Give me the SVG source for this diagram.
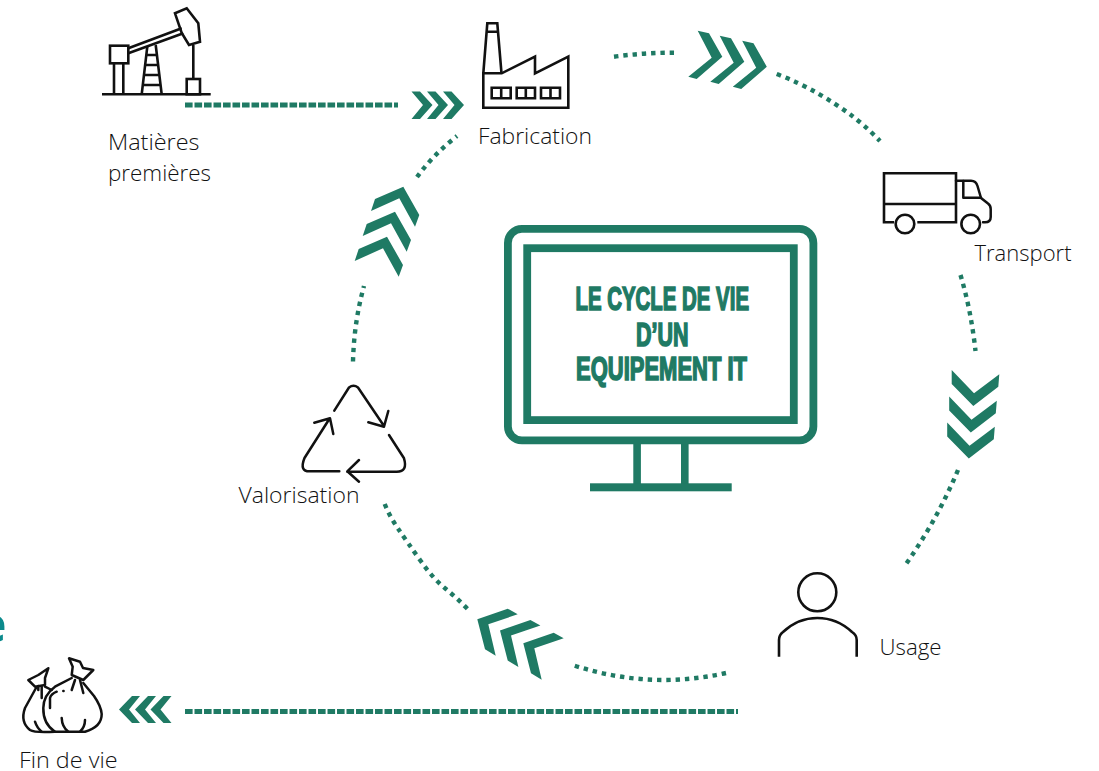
<svg xmlns="http://www.w3.org/2000/svg" width="1099" height="771" viewBox="0 0 1099 771">
<style>
.ic{fill:none;stroke:#111;stroke-width:2.5;stroke-linejoin:round;stroke-linecap:round}
.ib{fill:none;stroke:#111;stroke-width:2.6;stroke-linejoin:miter;stroke-linecap:butt}
.lb{font-family:"Open Sans","Noto Sans","Liberation Sans",sans-serif;font-weight:300;font-size:22px;fill:#111}
.tt{font-family:"Liberation Sans",Arial,sans-serif;font-weight:700;font-size:33px;fill:#1f7a64;stroke:#1f7a64;stroke-width:1.7}
.dot{fill:none;stroke:#1f7a64;stroke-width:4.4;stroke-dasharray:4.4 4.9}
.dash{fill:none;stroke:#1f7a64;stroke-width:4.8;stroke-dasharray:7.6 1.9}
.chev{fill:#1f7a64}
.mon{fill:none;stroke:#1f7a64;stroke-width:7.8}
.monf{fill:#1f7a64}
</style>
<defs>
<polygon id="cR" points="0,0 8.5,0 21,13.5 8.5,27.5 0,27.5 11.5,13.5"/>
<polygon id="cL" points="13,0 21,0 10,13.5 21,27 13,27 0,13.5"/>
<polygon id="cTop" points="697.7,30.7 709,33.3 722.3,56.7 696.7,79 688.3,76.7 711.7,57.7"/>
<polygon id="cDown" points="951.7,370 974,393.3 999.3,374.3 998.3,386.7 973.3,406 951.7,384"/>
<polygon id="cBot" points="477.3,619.3 507.7,608.7 517.7,614.3 488.3,624.3 495.7,655.7 485,649.3"/>
<polygon id="cUp" points="371,211 375,199 403.3,186.7 419.3,215 415,226.7 399.3,198.3"/>
</defs>

<text x="-23" y="642" font-family="'Open Sans','Liberation Sans',sans-serif" font-weight="700" font-size="50" fill="#0b8a8c">e</text>

<g id="connectors">
<path class="dash" d="M185 105H398"/>
<path class="dash" d="M185 711.5H738"/>
<path class="dot" d="M614 56.7Q645 52.5 675 52.7"/>
<path class="dot" d="M776.7 74Q800 83 817.7 93.3T850 114.3T880 141"/>
<path class="dot" d="M960.5 275Q971 310 975.5 351"/>
<path class="dot" d="M958 470Q937 520 906 564"/>
<path class="dot" d="M726 673Q650 690 574 665.5"/>
<path class="dot" d="M384.7 504Q390 517 398.3 529T420 560T445 588.3T468 609.5"/>
<path class="dot" d="M353 361.5Q354 322 364 286"/>
<path class="dot" d="M417 177Q433 155 457 136"/>
<g class="chev">
<use href="#cR" x="411.5" y="91.5"/><use href="#cR" x="427" y="91.5"/><use href="#cR" x="443" y="91.5"/>
<use href="#cL" x="119" y="696"/><use href="#cL" x="135" y="696"/><use href="#cL" x="150.5" y="696"/>
<use href="#cTop"/><use href="#cTop" x="22" y="5"/><use href="#cTop" x="44.5" y="10"/>
<use href="#cDown"/><use href="#cDown" x="-2.5" y="26.5"/><use href="#cDown" x="-4.5" y="52.5"/>
<use href="#cBot"/><use href="#cBot" x="22.7" y="11.3"/><use href="#cBot" x="46" y="24"/>
<use href="#cUp"/><use href="#cUp" x="-8.3" y="25"/><use href="#cUp" x="-16.3" y="50"/>
</g>
</g>

<g id="matieres">
<path class="ib" d="M102 94.3H210.7M114 63.3V94.3M123.3 63.3V94.3M193.3 45V79"/>
<rect class="ib" x="110" y="45.7" width="18.3" height="17.6"/>
<path class="ib" d="M128.3 48.3L181.7 28.3M128.3 53.3L183.3 33.3"/>
<path class="ib" d="M175 13.3L186.7 8.3L198.3 23.3L200 41.7L189 45L181.7 33Z"/>
<rect class="ib" x="186.7" y="79" width="13.3" height="15.3"/>
<path class="ib" d="M147.3 46.7L141.7 94.3M155.7 45L161.7 94.3M146 55H157M145 65H158.5M143.8 75H159.5M142.7 85H160.5"/>
<text class="lb" x="108" y="150" textLength="91.5" lengthAdjust="spacingAndGlyphs">Matières</text>
<text class="lb" x="108" y="181" textLength="103" lengthAdjust="spacingAndGlyphs">premières</text>
</g>

<g id="fabrication">
<path class="ib" d="M483.3 107.7H568.3V56.7L535 73.3V56.7L501.7 73.3H483.3Z"/>
<path class="ib" d="M483.3 73.3L487.3 23.3H497.3L501.5 73.3M486.8 31.7H497.9"/>
<path class="ib" d="M491.7 87.7H510.7V98.3H491.7ZM501.2 87.7V98.3M516.7 87.7H535V98.3H516.7ZM525.8 87.7V98.3M541 87.7H560V98.3H541ZM550.5 87.7V98.3"/>
<text class="lb" x="478" y="144" textLength="114" lengthAdjust="spacingAndGlyphs">Fabrication</text>
</g>

<g id="transport">
<path class="ib" d="M894 222.3H884V173.3H956V222.3H917.3M884 204H956"/>
<circle class="ib" cx="905" cy="224" r="9.3"/>
<circle class="ib" cx="970.7" cy="224" r="9.3"/>
<path class="ic" d="M956 180.7H971Q976 180.7 977.5 186L981 198L988 203.5Q990.7 205.5 990.7 209V217Q990.7 222.3 985 222.3H983"/>
<path class="ic" d="M963.3 181V197.8H981"/>
<text class="lb" x="974.5" y="261" textLength="97" lengthAdjust="spacingAndGlyphs">Transport</text>
</g>

<g id="monitor">
<rect class="mon" x="507.9" y="228.9" width="305.5" height="211.5" rx="14"/>
<rect class="mon" x="527.2" y="248.2" width="266.6" height="171.9"/>
<rect class="monf" x="633.3" y="444" width="7.6" height="40"/>
<rect class="monf" x="681" y="444" width="7.6" height="40"/>
<rect class="monf" x="590" y="483.3" width="141.7" height="8"/>
<text class="tt" x="575.5" y="310" textLength="173.5" lengthAdjust="spacingAndGlyphs">LE CYCLE DE VIE</text>
<text class="tt" x="636" y="345.5" textLength="52.5" lengthAdjust="spacingAndGlyphs">D’UN</text>
<text class="tt" x="576" y="380" textLength="171" lengthAdjust="spacingAndGlyphs">EQUIPEMENT IT</text>
</g>

<g id="usage">
<circle class="ib" cx="817.3" cy="592.3" r="19"/>
<path class="ib" d="M779 656.7V640Q779 635 783 632Q798 618 817.3 618Q837 618 852 632Q856.7 635 856.7 640V656.7"/>
<text class="lb" x="879.5" y="655" textLength="62" lengthAdjust="spacingAndGlyphs">Usage</text>
</g>

<g id="valorisation">
<path class="ic" d="M334.3 410.7L349 387.5Q353.5 384 358 387.5L384 426M368.3 422.3L384 426.7L388.3 411"/>
<path class="ic" d="M389 435L404 458.3Q408 471.7 396.7 471.7H347.3M359 460L347.3 471.3L359 481.7"/>
<path class="ic" d="M339.3 471.3H310Q299 471.7 304.5 458L329.3 419M314.3 422.7L330 418.3L333.3 434"/>
<text class="lb" x="238.5" y="502.5" textLength="121" lengthAdjust="spacingAndGlyphs">Valorisation</text>
</g>

<g id="findevie">
<path class="ic" d="M71.7 678L55 686.7Q43.5 695 43.3 708Q43 724 55 731.7H85Q101.7 727 101.7 714Q101 706 94 696L83.3 683"/>
<path class="ic" d="M69 658.3L80 661.7L83 668L93.3 670L83.3 680L71.7 675L72.7 666.7Z"/>
<path class="ic" d="M75 680L71.7 690M80 680L83.3 693M50 708V698Q51 694 56.7 691.7M63.3 691H63.6M61.7 718Q62 727 68.3 731.7M85 720Q85 727 80 731.7"/>
<path class="ic" d="M36 688L25 708Q20 722 30 730Q35 733 55 731.7M45 686.7L51.7 690"/>
<path class="ic" d="M48.3 668.3L38.3 675L28.3 680L35 686.7L45 685L45 678Z"/>
<path class="ic" d="M38.3 686L38.3 690M41.7 686.7V698M35 721.7Q37 728 41.7 731.7"/>
<text class="lb" x="19" y="767.5" textLength="98.5" lengthAdjust="spacingAndGlyphs">Fin de vie</text>
</g>
</svg>
